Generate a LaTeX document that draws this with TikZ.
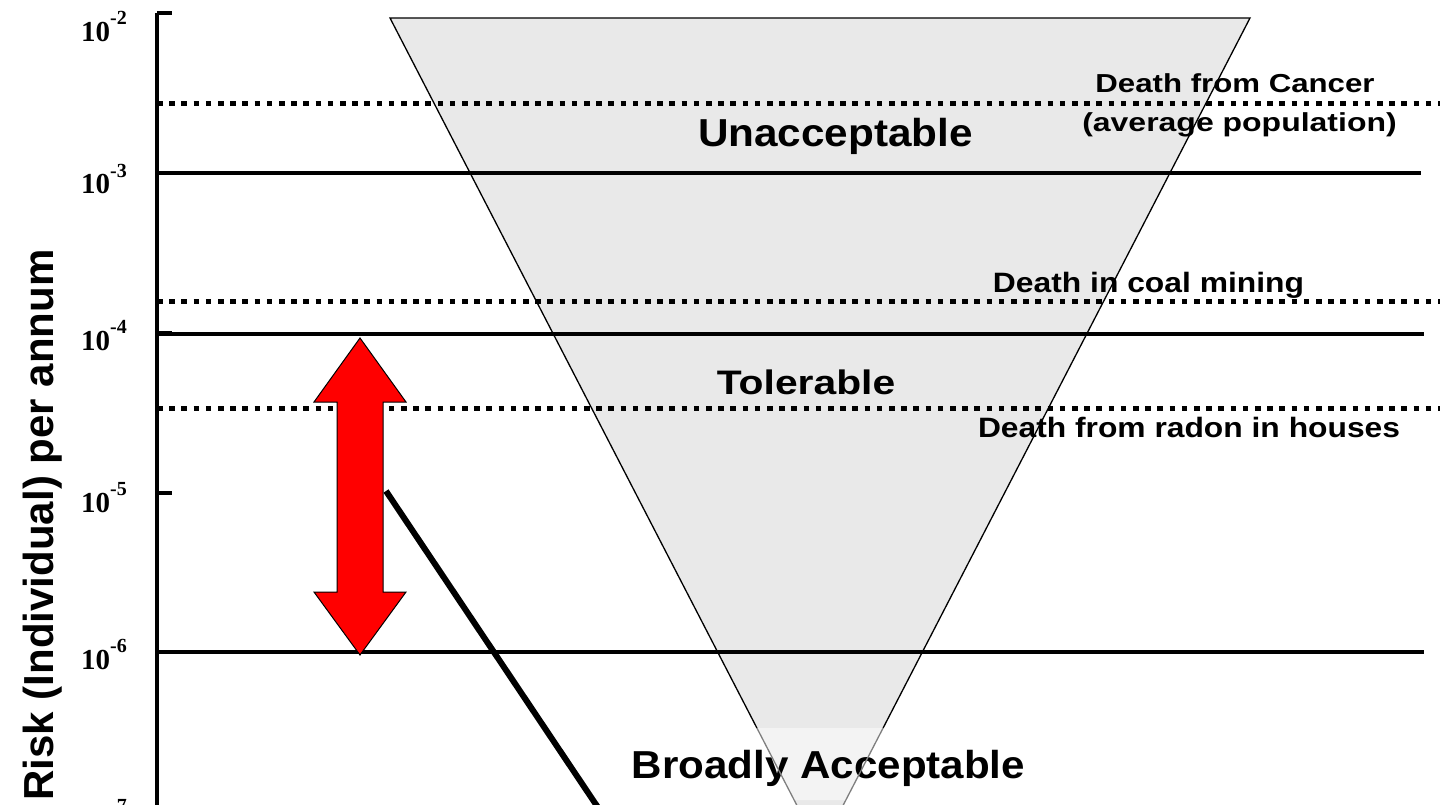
\documentclass[tikz,border=0pt]{standalone}
\usepackage{fontspec}
\setmainfont{Liberation Sans}
\newfontfamily\serifnum{Liberation Serif}
\definecolor{trifill}{HTML}{E9E9E9}
\definecolor{trifilltwo}{HTML}{F3F3F3}
\definecolor{triedge}{HTML}{7F7F7F}
\definecolor{arrowred}{HTML}{FF0000}
\tikzset{
  axisline/.style={line width=3.5pt},
  tickline/.style={line width=4pt},
  solidline/.style={line width=3.4pt},
  dotline/.style={line width=5pt, dash pattern=on 5.5pt off 6.7pt},
  lbl/.style={anchor=base, inner sep=0pt, font=\bfseries},
  numlbl/.style={anchor=base west, inner sep=0pt, font=\serifnum\bfseries\fontsize{29}{30}\selectfont},
}
\newcommand{\supx}[1]{\raisebox{17pt}{\fontsize{20}{20}\selectfont #1}}
\begin{document}
\begin{tikzpicture}[x=1pt,y=-1pt]
\useasboundingbox (0,0) rectangle (1440,805);
\clip (0,0) rectangle (1440,805);
% triangle
\coordinate (TL) at (390,18);
\coordinate (TR) at (1250,18);
\coordinate (AP) at (820,850);
\coordinate (BL) at (756.9,728);
\coordinate (BR) at (883.1,728);
\coordinate (CL) at (794.1,800);
\coordinate (CR) at (845.9,800);
\fill[trifill] (TL) -- (TR) -- (AP) -- cycle;
\fill[trifilltwo] (BL) -- (BR) -- (CR) -- (CL) -- cycle;
% axis
\coordinate (A0) at (157,13);
\coordinate (A1) at (157,812);
\draw[axisline] (A0) -- (A1);
\foreach \yy in {13,173,333,493,652} \draw[tickline] (157,\yy) -- (172,\yy);
% solid lines
\draw[solidline] (157,173) -- (1421,173);
\draw[solidline] (157,334) -- (1424,334);
\draw[solidline] (157,652) -- (1424,652);
% dotted lines
\draw[dotline] (157,104) -- (1440,104);
\draw[dotline] (157,301) -- (1440,301);
\draw[dotline] (157,408) -- (1440,408);
% texts
\node[lbl] (unacc) at (835.5,147) {\fontsize{39}{40}\selectfont\scalebox{1.084}[1]{Unacceptable}};
\node[lbl] (tol) at (806,394) {\fontsize{34}{35}\selectfont\scalebox{1.2}[1]{Tolerable}};
\node[lbl] (broad) at (828.5,778) {\fontsize{39}{40}\selectfont\scalebox{1.08}[1]{Broadly Acceptable}};
\node[lbl] (cancerA) at (1235,93) {\fontsize{26}{27}\selectfont\scalebox{1.2}[1]{Death from Cancer}};
\node[lbl] (cancerB) at (1239.5,132) {\fontsize{26}{27}\selectfont\scalebox{1.23}[1]{(average population)}};
\node[lbl] (coal) at (1148.5,292) {\fontsize{28}{29}\selectfont\scalebox{1.136}[1]{Death in coal mining}};
\node[lbl] (radon) at (1189,437) {\fontsize{28}{29}\selectfont\scalebox{1.135}[1]{Death from radon in houses}};
\node[lbl, rotate=90] (ylab) at (53,525) {\fontsize{42}{43}\selectfont Risk (Individual) per annum};
% axis numbers
\node[numlbl] (n2) at (81,42) {10\supx{-2}};
\node[numlbl] (n3) at (81,194) {10\supx{-3}};
\node[numlbl] (n4) at (81,350) {10\supx{-4}};
\node[numlbl] (n5) at (81,512) {10\supx{-5}};
\node[numlbl] (n6) at (81,669) {10\supx{-6}};
\node[numlbl] (n7) at (81,829) {10\supx{-7}};
% triangle outline
\draw[line width=1.3pt, line join=miter] (BL) -- (TL) -- (TR) -- (BR);
\draw[triedge, line width=1.3pt] (BL) -- (AP) -- (BR);
% red double arrow
\draw[fill=arrowred, line width=1pt, line join=miter]
  (360,338) -- (406,402) -- (383,402) -- (383,592) -- (406,592) -- (360,655)
  -- (314,592) -- (337,592) -- (337,402) -- (314,402) -- cycle;
% thick line
\coordinate (L1) at (386,491);
\coordinate (L2) at (601,812);
\draw[line width=6pt] (L1) -- (L2);
\end{tikzpicture}
\end{document}
